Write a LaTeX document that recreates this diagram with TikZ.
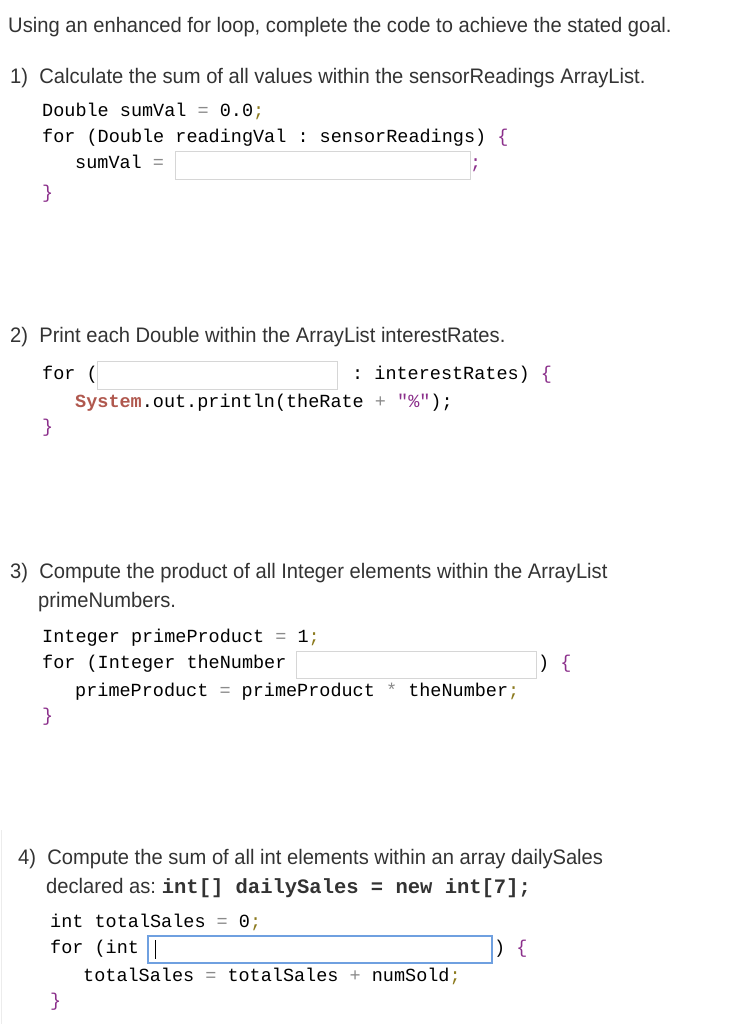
\documentclass[tikz,border=0pt]{standalone}
\usepackage{fontspec}
\setmainfont{Liberation Sans}
\setmonofont{Liberation Mono}
\definecolor{txt}{HTML}{333333}
\definecolor{eqc}{HTML}{8A8A8A}
\definecolor{semi}{HTML}{8C7A1E}
\definecolor{brc}{HTML}{8B2F8B}
\definecolor{sysc}{HTML}{B0584E}
\definecolor{boxb}{HTML}{D6D6D6}
\definecolor{blueb}{HTML}{6FA0E0}
\newcommand{\hd}[1]{\scalebox{0.96}[1]{#1}}
\newcommand{\E}{\textcolor{eqc}{=}}
\newcommand{\Sm}{\textcolor{semi}{;}}
\newcommand{\Ob}{\textcolor{brc}{\{}}
\newcommand{\Cb}{\textcolor{brc}{\}}}
\tikzset{
 head/.style={anchor=base west,inner sep=0pt,text=txt,font=\fontsize{21}{24}\selectfont},
 code/.style={anchor=base west,inner sep=0pt,text=black,font=\ttfamily\fontsize{18.5}{20}\selectfont},
 field/.style={draw=boxb,line width=0.8pt,fill=white},
 afield/.style={draw=blueb,line width=1.4pt,fill=white}
}
\begin{document}
\begin{tikzpicture}[x=1pt,y=-1pt]
\useasboundingbox[fill=white] (0,0) rectangle (730,1024);
\draw[gray!15,line width=1pt] (1,830) -- (1,1024);
\node[head] (t) at (8,33) {\hd{Using an enhanced for loop, complete the code to achieve the stated goal.}};
% 1
\node[head] (q1) at (10,84) {\hd{1)\ \ Calculate the sum of all values within the sensorReadings ArrayList.}};
\node[code] (c11) at (42,117) {Double sumVal \E{} 0.0\Sm};
\node[code] (c12) at (42,143) {for (Double readingVal : sensorReadings) \Ob};
\node[code] (c13) at (75,169) {sumVal \E};
\draw[field] (175,151) rectangle (470,179);
\node[code] (c14) at (470,169) {\textcolor{brc}{;}};
\node[code] (c15) at (42,199) {\Cb};
% 2
\node[head] (q2) at (10,342) {\hd{2)\ \ Print each Double within the ArrayList interestRates.}};
\node[code] (c21) at (42,379) {for (};
\draw[field] (97,361) rectangle (337,389);
\node[code] (c22) at (352,379) {: interestRates) \Ob};
\node[code] (c23) at (75,407) {\textcolor{sysc}{\bfseries System}.out.println(theRate \textcolor{eqc}{+} \textcolor{brc}{"\%"});};
\node[code] (c24) at (42,432) {\Cb};
% 3
\node[head] (q3) at (10,578) {\hd{3)\ \ Compute the product of all Integer elements within the ArrayList}};
\node[head] (q3b) at (38,607) {\hd{primeNumbers.}};
\node[code] (c31) at (42,642) {Integer primeProduct \E{} 1\Sm};
\node[code] (c32) at (42,668) {for (Integer theNumber};
\draw[field] (296,651) rectangle (536,678);
\node[code] (c33) at (538,668) {) \Ob};
\node[code] (c34) at (75,696) {primeProduct \E{} primeProduct \textcolor{eqc}{*} theNumber\Sm};
\node[code] (c35) at (42,721) {\Cb};
% 4
\node[head] (q4) at (18,864) {\hd{4)\ \ Compute the sum of all int elements within an array dailySales}};
\node[head] (q4b) at (46,893) {\hd{declared as:} \ttfamily\bfseries\fontsize{20.5}{22}\selectfont int[] dailySales = new int[7];};
\node[code] (c41) at (50,927) {int totalSales \E{} 0\Sm};
\node[code] (c42) at (50,953) {for (int};
\draw[afield] (148,936) rectangle (492,963);
\draw[black,line width=1pt] (155,940) -- (155,959);
\node[code] (c43) at (494,953) {) \Ob};
\node[code] (c44) at (83,981) {totalSales \E{} totalSales \textcolor{eqc}{+} numSold\Sm};
\node[code] (c45) at (50,1006) {\Cb};
\end{tikzpicture}
\end{document}
